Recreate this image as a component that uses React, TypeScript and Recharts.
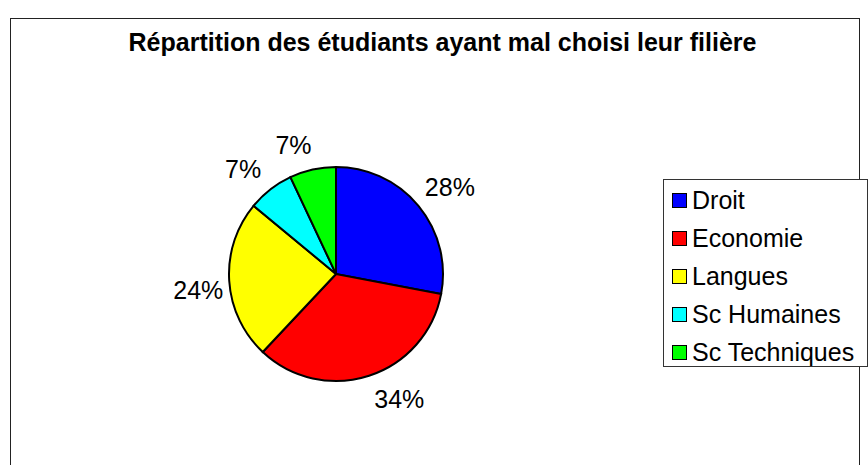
import React from "react";
import { PieChart, Pie, Cell, Legend } from "recharts";

const categories = ["Droit", "Economie", "Langues", "Sc Humaines", "Sc Techniques"];
const values = [28, 34, 24, 7, 7];
const colors = ["#0000FF", "#FF0000", "#FFFF00", "#00FFFF", "#00FF00"];
const title = "Répartition des étudiants ayant mal choisi leur filière";

// label placement tweaks (Excel best-fit style), in px
const labelNudge = [
  [6, 2],
  [20, -8],
  [2, 7],
  [-7, 6],
  [-12, 8],
];

const data = categories.map((name, i) => ({ name, value: values[i] }));
const total = values.reduce((a, b) => a + b, 0);
const FONT = "'Liberation Sans', Arial, sans-serif";
const RAD = Math.PI / 180;

const renderLabel = (props: any) => {
  const { cx, cy, midAngle, outerRadius, index, value } = props;
  const r = outerRadius + 33;
  const x = cx + r * Math.cos(-midAngle * RAD) + labelNudge[index][0];
  const y = cy + r * Math.sin(-midAngle * RAD) + labelNudge[index][1];
  return (
    <text
      x={x}
      y={y}
      textAnchor="middle"
      dominantBaseline="central"
      fontFamily={FONT}
      fontSize={25}
      fill="#000"
    >
      {Math.round((value / total) * 100) + "%"}
    </text>
  );
};

const renderLegend = () => (
  <div
    style={{
      width: 205,
      height: 188,
      border: "1px solid #333",
      boxSizing: "border-box",
      background: "#fff",
      fontFamily: FONT,
      fontSize: 25,
      paddingTop: 1,
    }}
  >
    {categories.map((c, i) => (
      <div
        key={c}
        style={{ height: 38, display: "flex", alignItems: "center", whiteSpace: "nowrap" }}
      >
        <div
          style={{
            width: 15,
            height: 15,
            marginLeft: 8,
            marginRight: 5,
            background: colors[i],
            border: "1.5px solid #000",
            boxSizing: "border-box",
            flexShrink: 0,
          }}
        />
        <span style={{ lineHeight: "38px" }}>{c}</span>
      </div>
    ))}
  </div>
);

export default function App() {
  return (
    <div style={{ position: "absolute", left: 0, top: 0, width: 868, height: 465, background: "#fff", overflow: "hidden" }}>
      <div
        style={{
          position: "absolute",
          left: 10,
          top: 18,
          width: 848,
          height: 470,
          borderTop: "1px solid #222",
          borderLeft: "1px solid #222",
          borderRight: "1px solid #222",
        }}
      />
      <svg style={{ position: "absolute", left: 0, top: 0 }} width={868} height={70}>
        <text
          x={442.5}
          y={51}
          textAnchor="middle"
          fontFamily={FONT}
          fontWeight="bold"
          fontSize={25}
          fill="#000"
        >
          {title}
        </text>
      </svg>
      <div style={{ position: "absolute", left: 0, top: 0 }}>
        <PieChart width={868} height={465} margin={{ top: 0, right: 0, bottom: 0, left: 0 }}>
          <Pie
            data={data}
            dataKey="value"
            nameKey="name"
            cx={336}
            cy={274}
            outerRadius={107}
            startAngle={90}
            endAngle={-270}
            stroke="#000"
            strokeWidth={2}
            label={renderLabel}
            labelLine={false}
            isAnimationActive={false}
          >
            {data.map((d, i) => (
              <Cell key={d.name} fill={colors[i]} />
            ))}
          </Pie>
          <Legend
            layout="vertical"
            align="right"
            verticalAlign="top"
            content={renderLegend}
            wrapperStyle={{ position: "absolute", left: 663, top: 179, width: 205, height: 188 }}
          />
        </PieChart>
      </div>
    </div>
  );
}
